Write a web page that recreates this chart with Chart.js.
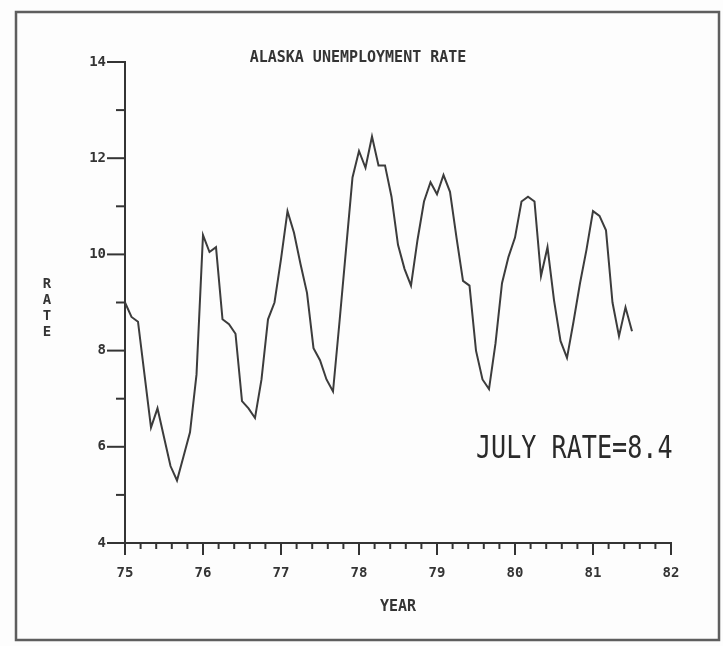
<!DOCTYPE html>
<html>
<head>
<meta charset="utf-8">
<script src="https://cdn.jsdelivr.net/npm/chart.js@4"></script>
<style>
  html, body { margin: 0; padding: 0; background: #fdfdfd; }
  #wrap { width: 723px; height: 646px; }
</style>
</head>
<body>
<div id="wrap"><canvas id="myChart" width="723" height="646"></canvas></div>
<script>
const ctx = document.getElementById("myChart").getContext("2d");

// monthly Alaska unemployment rate, Jan 1975 .. Jul 1981
const startYear = 75;
const rates = [
    9.0, 8.7, 8.6, 7.5, 6.4, 6.8, 6.2, 5.6, 5.3, 5.8, 6.3, 7.5,
    10.4, 10.05, 10.15, 8.65, 8.55, 8.35, 6.95, 6.8, 6.6, 7.4, 8.65, 9.0,
    9.9, 10.9, 10.45, 9.8, 9.2, 8.05, 7.8, 7.4, 7.15, 8.6, 10.1, 11.6,
    12.15, 11.8, 12.45, 11.85, 11.85, 11.2, 10.2, 9.7, 9.35, 10.3, 11.1, 11.5,
    11.25, 11.65, 11.3, 10.35, 9.45, 9.35, 8.0, 7.4, 7.2, 8.15, 9.4, 9.95,
    10.35, 11.1, 11.2, 11.1, 9.55, 10.15, 9.05, 8.2, 7.85, 8.6, 9.4, 10.1,
    10.9, 10.8, 10.5, 9.0, 8.3, 8.9, 8.4
];
const yearTicks = [75, 76, 77, 78, 79, 80, 81, 82];
const rateTicks = [4, 6, 8, 10, 12, 14];
const note = "JULY RATE=8.4";
const yLabel = ["R", "A", "T", "E"];

const points = rates.map((r, i) => ({ x: startYear + i / 12, y: r }));
const ink = '#343434';
const mono = '"DejaVu Sans Mono", monospace';

// frame, title, stacked axis label, tick marks and the note
const paperPlugin = {
    id: 'paper',
    beforeDraw(chart) {
        const c = chart.ctx;
        c.save();
        c.fillStyle = '#fdfdfd';
        c.fillRect(0, 0, chart.width, chart.height);
        c.strokeStyle = '#5e5e5e';
        c.lineWidth = 2.5;
        c.strokeRect(16, 12, 703, 628);
        c.restore();
    },
    afterDraw(chart) {
        const c = chart.ctx;
        const xs = chart.scales.x, ys = chart.scales.y;
        const area = chart.chartArea;
        c.save();
        c.strokeStyle = ink;
        c.lineWidth = 2;
        // y ticks, long on labelled values
        for (let v = 4; v <= 14; v++) {
            const py = ys.getPixelForValue(v);
            const len = rateTicks.includes(v) ? 18 : 9;
            c.beginPath();
            c.moveTo(area.left, py);
            c.lineTo(area.left - len, py);
            c.stroke();
        }
        // x ticks, five per year
        for (let k = 0; k <= 35; k++) {
            const px = xs.getPixelForValue(startYear + k / 5);
            const len = k % 5 === 0 ? 12 : 6;
            c.beginPath();
            c.moveTo(px, area.bottom);
            c.lineTo(px, area.bottom + len);
            c.stroke();
        }
        c.fillStyle = ink;
        c.textAlign = 'center';
        c.textBaseline = 'middle';
        c.font = 'bold 15px ' + mono;
        c.fillText('ALASKA UNEMPLOYMENT RATE', 358, 58);
        c.font = 'bold 14px ' + mono;
        const ly = [284, 300, 316, 332];
        yLabel.forEach((ch, i) => c.fillText(ch, 47, ly[i]));
        // note, drawn narrow
        c.translate(476, 450);
        c.scale(0.785, 1);
        c.textAlign = 'left';
        c.font = '32px ' + mono;
        c.fillStyle = '#2a2a2a';
        c.fillText(note, 0, 0);
        c.restore();
    }
};

const myChart = new Chart(ctx, {
    type: 'line',
    data: {
        datasets: [{
            data: points,
            borderColor: '#3c3c3c',
            borderWidth: 2,
            pointRadius: 0,
            tension: 0,
            fill: false,
        }]
    },
    plugins: [paperPlugin],
    options: {
        responsive: false,
        animation: false,
        layout: { padding: { top: 62, right: 52, left: 0, bottom: 0 } },
        plugins: {
            legend: { display: false },
            tooltip: { enabled: false },
        },
        scales: {
            x: {
                type: 'linear',
                min: 75,
                max: 82,
                afterFit: (scale) => { scale.height = 103; },
                grid: { display: false, drawTicks: false },
                border: { display: true, color: ink, width: 2 },
                ticks: {
                    autoSkip: false,
                    maxRotation: 0,
                    padding: 22,
                    color: ink,
                    font: { family: mono, size: 14, weight: 'bold' },
                },
                afterBuildTicks: (scale) => {
                    scale.ticks = yearTicks.map(v => ({ value: v }));
                },
                title: {
                    display: true,
                    text: 'YEAR',
                    color: ink,
                    font: { family: mono, size: 15, weight: 'bold' },
                    padding: { top: 0, bottom: 30 },
                },
            },
            y: {
                min: 4,
                max: 14,
                afterFit: (scale) => { scale.width = 125; },
                grid: { display: false, drawTicks: false },
                border: { display: true, color: ink, width: 2 },
                ticks: {
                    padding: 19,
                    color: ink,
                    font: { family: mono, size: 14, weight: 'bold' },
                },
                afterBuildTicks: (scale) => {
                    scale.ticks = rateTicks.map(v => ({ value: v }));
                },
            }
        }
    }
});
</script>
</body>
</html>
